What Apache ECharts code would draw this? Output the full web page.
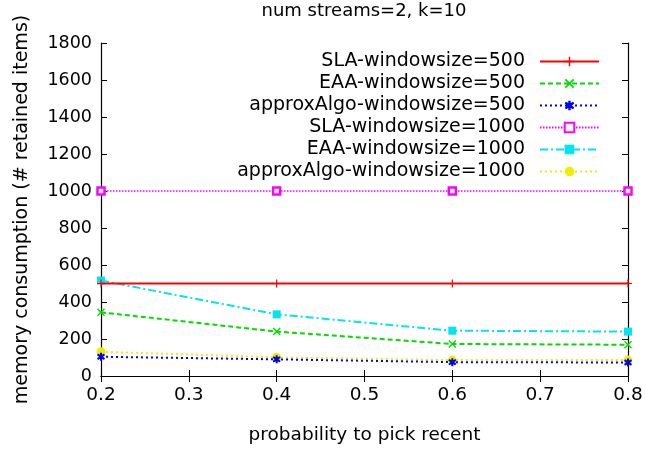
<!DOCTYPE html>
<html><head><meta charset="utf-8">
<script src="https://cdn.jsdelivr.net/npm/echarts@6/dist/echarts.min.js"></script>
<style>html,body{margin:0;padding:0;background:#fff}#c{width:646px;height:452px}</style>
</head><body><div id="c"></div>
<script>
const xValues = [0.2, 0.4, 0.6, 0.8];
const seriesNames = ['SLA-windowsize=500','EAA-windowsize=500','approxAlgo-windowsize=500','SLA-windowsize=1000','EAA-windowsize=1000','approxAlgo-windowsize=1000'];
const sla500 = [500, 500, 500, 500];
const eaa500 = [344, 240, 173, 169];
const approx500 = [104, 90, 75, 73];
const sla1000 = [1000, 1000, 1000, 1000];
const eaa1000 = [516, 333, 245, 240];
const approx1000 = [131, 101, 86, 86];
const yTicks = [0, 200, 400, 600, 800, 1000, 1200, 1400, 1600, 1800];
const xTicks = [0.2, 0.3, 0.4, 0.5, 0.6, 0.7, 0.8];

const FONT = 'DejaVu Sans, sans-serif';
const plus = 'path://M-0.15,-1L0.15,-1L0.15,-0.15L1,-0.15L1,0.15L0.15,0.15L0.15,1L-0.15,1L-0.15,0.15L-1,0.15L-1,-0.15L-0.15,-0.15Z';
const cross = 'path://M-1,-0.75L-0.75,-1L0,-0.25L0.75,-1L1,-0.75L0.25,0L1,0.75L0.75,1L0,0.25L-0.75,1L-1,0.75L-0.25,0Z';
const star = 'path://M-0.25,-1L0.25,-1L0.25,-0.5L0.75,-0.8L1,-0.4L0.5,0L1,0.4L0.75,0.8L0.25,0.5L0.25,1L-0.25,1L-0.25,0.5L-0.75,0.8L-1,0.4L-0.5,0L-1,-0.4L-0.75,-0.8L-0.25,-0.5Z';

const styles = [
  {data: sla500, color: '#ff0000', type: 'solid', width: 2.2, symbol: plus, size: 8},
  {data: eaa500, color: '#00dd00', type: [5, 3], width: 2, symbol: cross, size: 8},
  {data: approx500, color: '#0000ee', type: [2, 3], width: 2, symbol: star, size: 8},
  {data: sla1000, color: '#ff00ff', type: [1.5, 1.5], width: 1.5, symbol: 'rect', size: 7, hollow: true},
  {data: eaa1000, color: '#00e5ee', type: [8, 3, 2, 3], width: 2, symbol: 'rect', size: 8},
  {data: approx1000, color: '#eeee00', type: [2, 3], width: 2, symbol: 'circle', size: 9}
];

const series = styles.map((s, i) => ({
  name: seriesNames[i],
  type: 'line',
  data: xValues.map((x, j) => [x, s.data[j]]),
  symbol: s.symbol,
  symbolSize: s.size,
  showAllSymbol: true,
  color: s.color,
  lineStyle: {color: s.color, width: s.width, type: s.type},
  itemStyle: s.hollow ? {color: '#ffffff', borderColor: s.color, borderWidth: 2.5} : {color: s.color, borderWidth: 0},
  emphasis: {disabled: true},
  animation: false,
  z: 10 - i
}));

const legends = seriesNames.map((n, i) => ({
  data: [n],
  orient: 'vertical',
  right: 46,
  top: 52 + i * 22,
  align: 'right',
  itemWidth: 59,
  itemHeight: 12,
  itemGap: 0,
  padding: 0,
  selectedMode: false,
  textStyle: {fontFamily: FONT, fontSize: 19, color: '#000', padding: [0, 10, 0, 0]}
}));

const axisLine = {show: true, lineStyle: {color: '#000', width: 1.2}};
const tick = {show: true, inside: true, length: 6, lineStyle: {color: '#000', width: 1}};

const option = {
  backgroundColor: '#fff',
  animation: false,
  title: {text: 'num streams=2, k=10', left: 364, textAlign: 'center', top: 0, padding: [2, 0, 0, 0],
    textStyle: {fontFamily: FONT, fontSize: 18, fontWeight: 'normal', color: '#000'}},
  legend: legends,
  grid: {left: 101, right: 18, top: 43, bottom: 76},
  xAxis: [
    {type: 'value', min: 0.2, max: 0.8, interval: 0.1, position: 'bottom',
     axisLine: axisLine, axisTick: tick, splitLine: {show: false},
     axisLabel: {fontFamily: FONT, fontSize: 18.5, color: '#000', margin: 10,
       formatter: v => xTicks.find(t => Math.abs(t - v) < 1e-6).toFixed(1)},
     name: 'probability to pick recent', nameLocation: 'middle', nameGap: 50,
     nameTextStyle: {fontFamily: FONT, fontSize: 18.5, color: '#000'}},
    {type: 'value', min: 0.2, max: 0.8, interval: 0.1, position: 'top',
     axisLine: axisLine, axisTick: tick, axisLabel: {show: false}, splitLine: {show: false}}
  ],
  yAxis: [
    {type: 'value', min: 0, max: 1800, interval: 200, position: 'left',
     axisLine: axisLine, axisTick: tick, splitLine: {show: false},
     axisLabel: {fontFamily: FONT, fontSize: 17.5, color: '#000', margin: 9,
       formatter: v => String(yTicks.find(t => t === v))},
     name: 'memory consumption (# retained items)', nameLocation: 'middle', nameGap: 69,
     nameTextStyle: {fontFamily: FONT, fontSize: 19, color: '#000'}},
    {type: 'value', min: 0, max: 1800, interval: 200, position: 'right',
     axisLine: axisLine, axisTick: tick, axisLabel: {show: false}, splitLine: {show: false}}
  ],
  series: series
};

const chart = echarts.init(document.getElementById('c'), null, {renderer: 'canvas'});
chart.setOption(option);
</script>
</body></html>
